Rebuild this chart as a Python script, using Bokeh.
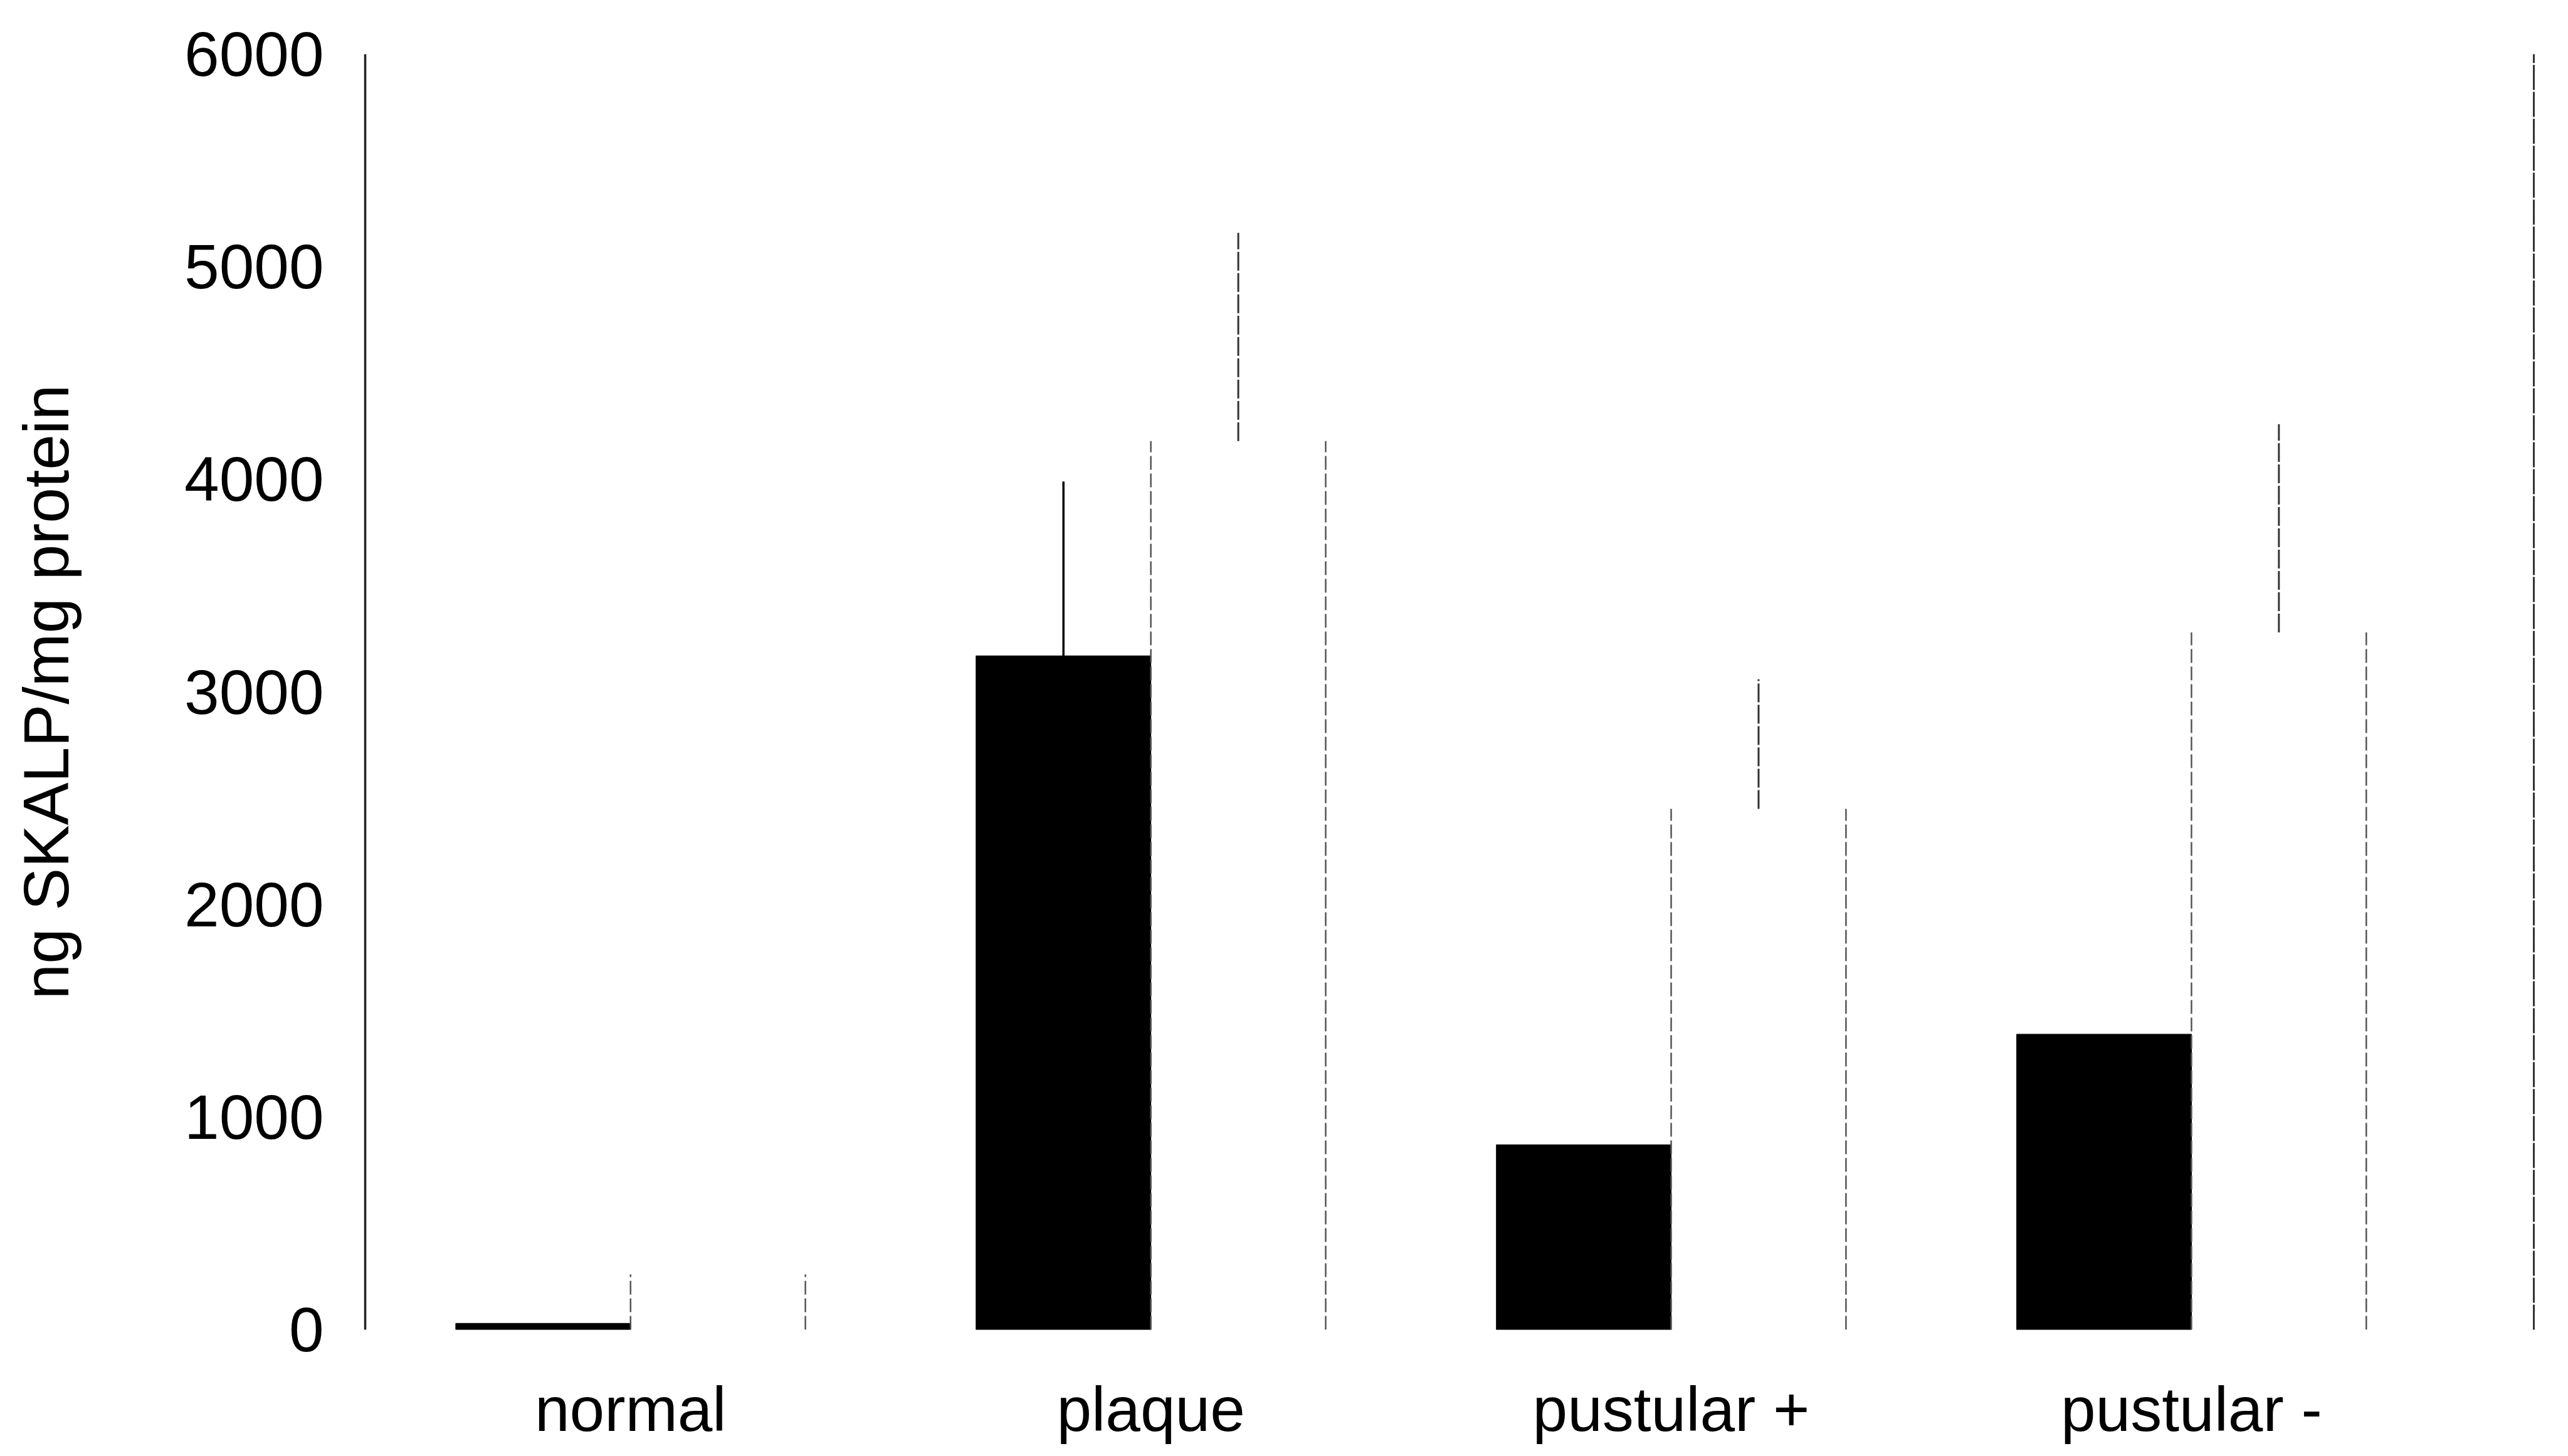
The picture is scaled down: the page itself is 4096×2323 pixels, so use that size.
from bokeh.plotting import figure
from bokeh.models import ColumnDataSource, FixedTicker, LinearAxis, Range1d
from bokeh.embed import file_html
from bokeh.resources import INLINE

# ---- data ----
categories = ["normal", "plaque", "pustular +", "pustular -"]
black_values = [30, 3170, 870, 1390]
black_sd = [0, 820, 0, 0]
white_values = [260, 4180, 2450, 3280]
white_sd = [0, 980, 610, 980]
y_ticks = [0, 1000, 2000, 3000, 4000, 5000, 6000]

BAR_W = 0.336
FONT = "Liberation Sans"
FS = "100px"

pos = [i + 1 for i in range(len(categories))]

black_src = ColumnDataSource(dict(
    x=[p - BAR_W / 2 for p in pos], top=black_values))

# white bar edges (only the vertical outlines survive in the scan)
edge_x = []
edge_top = []
for p, v in zip(pos, white_values):
    edge_x += [p, p + BAR_W]
    edge_top += [v, v]
edge_src = ColumnDataSource(dict(x=edge_x, y0=[0] * len(edge_x), y1=edge_top))

bx, bb, bt = [], [], []
for p, v, s in zip(pos, black_values, black_sd):
    if s > 0:
        bx.append(p - BAR_W / 2); bb.append(v); bt.append(v + s)
berr_src = ColumnDataSource(dict(x=bx, y0=bb, y1=bt))

wx, wb, wt = [], [], []
for p, v, s in zip(pos, white_values, white_sd):
    if s > 0:
        wx.append(p + BAR_W / 2); wb.append(v); wt.append(v + s)
werr_src = ColumnDataSource(dict(x=wx, y0=wb, y1=wt))

p = figure(
    output_backend="svg", toolbar_location=None,
    frame_width=3459, frame_height=2035,
    min_border_left=582, min_border_right=39,
    min_border_top=86, min_border_bottom=186,
    x_range=Range1d(0.490, 4.658), y_range=Range1d(0, 6000),
    background_fill_color="white", border_fill_color="white",
)
p.outline_line_color = None
p.grid.visible = False

p.vbar(x="x", top="top", bottom=0, width=BAR_W, source=black_src,
       fill_color="black", line_color="black", line_width=1)
p.segment(x0="x", y0="y0", x1="x", y1="y1", source=edge_src,
          line_color="#555555", line_width=2.5, line_dash="22 6")
p.segment(x0="x", y0="y0", x1="x", y1="y1", source=berr_src,
          line_color="black", line_width=3.5)
p.segment(x0="x", y0="y0", x1="x", y1="y1", source=werr_src,
          line_color="#333333", line_width=3, line_dash="30 4")

# y axis
ya = p.yaxis[0]
ya.ticker = FixedTicker(ticks=y_ticks)
ya.axis_label = "ng SKALP/mg protein"
ya.axis_label_text_font = FONT
ya.axis_label_text_font_size = "102px"
ya.axis_label_text_font_style = "normal"
ya.axis_label_text_color = "black"
ya.axis_label_standoff = 160
ya.major_label_text_font = FONT
ya.major_label_text_font_size = FS
ya.major_label_text_color = "black"
ya.major_label_standoff = 66
ya.major_tick_out = 0
ya.major_tick_in = 0
ya.minor_tick_out = 0
ya.minor_tick_in = 0
ya.axis_line_color = "#222222"
ya.axis_line_width = 3.5

# x axis with category names
xa = p.xaxis[0]
xa.ticker = FixedTicker(ticks=pos)
xa.major_label_overrides = {pp: c for pp, c in zip(pos, categories)}
xa.major_label_text_font = FONT
xa.major_label_text_font_size = FS
xa.major_label_text_color = "black"
xa.major_label_standoff = 70
xa.major_tick_out = 0
xa.major_tick_in = 0
xa.minor_tick_out = 0
xa.minor_tick_in = 0
xa.axis_line_color = None

# right frame line
ra = LinearAxis(ticker=FixedTicker(ticks=[]), major_label_text_font_size="0px",
                major_tick_out=0, major_tick_in=0, minor_tick_out=0, minor_tick_in=0,
                axis_line_color="#333333", axis_line_width=3, axis_line_dash="40 3")
p.add_layout(ra, "right")

open("out.html", "w").write(file_html(p, INLINE))
